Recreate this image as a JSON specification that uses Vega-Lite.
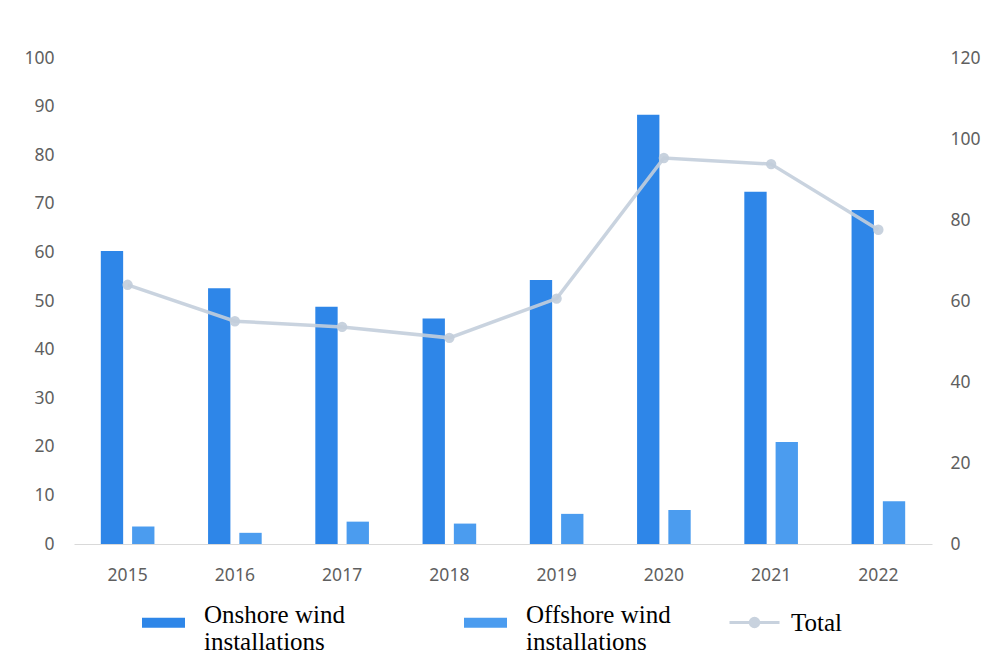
{
  "$schema": "https://vega.github.io/schema/vega-lite/v6.json",
  "width": 858,
  "height": 486,
  "autosize": {"type": "none"},
  "padding": {"left": 74, "top": 58, "right": 51, "bottom": 111},
  "background": "white",
  "config": {
    "view": {"stroke": null},
    "font": "Noto Sans",
    "axis": {"labelFont": "Noto Sans", "labelColor": "#5f5f5f", "labelFontSize": 17.5, "ticks": false, "grid": false, "title": null}
  },
  "datasets": {
    "installs": [
      {"year": "2015", "type": "Onshore wind installations", "gw": 60.3},
      {"year": "2015", "type": "Offshore wind installations", "gw": 3.6},
      {"year": "2016", "type": "Onshore wind installations", "gw": 52.6},
      {"year": "2016", "type": "Offshore wind installations", "gw": 2.3},
      {"year": "2017", "type": "Onshore wind installations", "gw": 48.8},
      {"year": "2017", "type": "Offshore wind installations", "gw": 4.6},
      {"year": "2018", "type": "Onshore wind installations", "gw": 46.4},
      {"year": "2018", "type": "Offshore wind installations", "gw": 4.2},
      {"year": "2019", "type": "Onshore wind installations", "gw": 54.3},
      {"year": "2019", "type": "Offshore wind installations", "gw": 6.2},
      {"year": "2020", "type": "Onshore wind installations", "gw": 88.3},
      {"year": "2020", "type": "Offshore wind installations", "gw": 7.0},
      {"year": "2021", "type": "Onshore wind installations", "gw": 72.5},
      {"year": "2021", "type": "Offshore wind installations", "gw": 21.0},
      {"year": "2022", "type": "Onshore wind installations", "gw": 68.7},
      {"year": "2022", "type": "Offshore wind installations", "gw": 8.8}
    ],
    "totals": [
      {"year": "2015", "series": "Total", "gw": 64.0},
      {"year": "2016", "series": "Total", "gw": 55.0},
      {"year": "2017", "series": "Total", "gw": 53.6},
      {"year": "2018", "series": "Total", "gw": 50.9},
      {"year": "2019", "series": "Total", "gw": 60.6},
      {"year": "2020", "series": "Total", "gw": 95.3},
      {"year": "2021", "series": "Total", "gw": 93.8},
      {"year": "2022", "series": "Total", "gw": 77.6}
    ]
  },
  "encoding": {
    "x": {
      "field": "year",
      "type": "nominal",
      "sort": null,
      "scale": {"paddingInner": 0.5, "paddingOuter": 0.25},
      "axis": {"labelAngle": 0, "labelPadding": 22, "domain": true, "domainColor": "#d9d9d9", "domainWidth": 1}
    }
  },
  "layer": [
    {
      "data": {"name": "installs"},
      "mark": {"type": "bar"},
      "encoding": {
        "xOffset": {"field": "type", "type": "nominal", "sort": ["Onshore wind installations", "Offshore wind installations"], "scale": {"paddingInner": 0.286, "paddingOuter": 0}},
        "y": {
          "field": "gw",
          "type": "quantitative",
          "scale": {"domain": [0, 100], "nice": false},
          "axis": {"orient": "left", "values": [0, 10, 20, 30, 40, 50, 60, 70, 80, 90, 100], "labelPadding": 20, "domain": false}
        },
        "color": {
          "field": "type",
          "type": "nominal",
          "sort": ["Onshore wind installations", "Offshore wind installations"],
          "scale": {"domain": ["Onshore wind installations", "Offshore wind installations"], "range": ["#2e86e8", "#4b9cef"]},
          "legend": {
            "title": null,
            "orient": "none",
            "direction": "horizontal",
            "legendX": 68,
            "legendY": 543,
            "symbolType": "M-1,-0.233H1V0.233H-1Z",
            "symbolSize": 1849,
            "symbolStrokeWidth": 0,
            "labelFont": "Liberation Serif",
            "labelFontSize": 25,
            "labelBaseline": "alphabetic",
            "labelColor": "#000000",
            "labelOffset": 19,
            "labelLimit": 400,
            "columnPadding": 119,
            "labelExpr": "split(datum.label, ' installations')[0] == datum.label ? datum.label : [split(datum.label, ' installations')[0], 'installations']"
          }
        }
      }
    },
    {
      "data": {"name": "totals"},
      "mark": {"type": "line", "strokeWidth": 3.5, "opacity": 0.9, "point": {"filled": true, "size": 70, "opacity": 0.9}},
      "encoding": {
        "y": {
          "field": "gw",
          "type": "quantitative",
          "scale": {"domain": [0, 120], "nice": false},
          "axis": {"orient": "right", "values": [0, 20, 40, 60, 80, 100, 120], "labelPadding": 18, "domain": false}
        },
        "stroke": {
          "field": "series",
          "type": "nominal",
          "scale": {"domain": ["Total"], "range": ["#c3cedb"]},
          "legend": {
            "title": null,
            "orient": "none",
            "legendX": 654,
            "legendY": 538,
            "symbolType": "M-1,0H1M0.17,0A0.17,0.17 0 1,1 -0.17,0A0.17,0.17 0 1,1 0.17,0Z",
            "symbolSize": 2500,
            "symbolStrokeWidth": 3,
            "symbolFillColor": "#c3cedb",
            "labelFont": "Liberation Serif",
            "labelFontSize": 25,
            "labelColor": "#000000",
            "labelOffset": 10
          }
        },
        "color": {"value": "#c3cedb"}
      }
    }
  ],
  "resolve": {"scale": {"y": "independent"}}
}
